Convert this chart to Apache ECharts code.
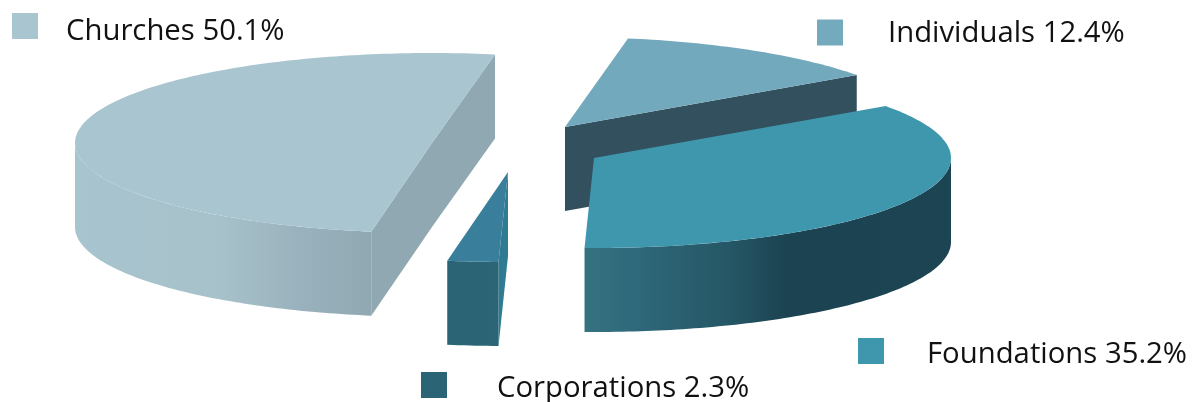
<!DOCTYPE html>
<html>
<head>
<meta charset="utf-8">
<style>html,body{margin:0;padding:0;background:#fff}#c{width:1195px;height:402px}</style>
<script src="https://cdn.jsdelivr.net/npm/echarts@6/dist/echarts.min.js"></script>
</head>
<body>
<div id="c"></div>
<script>
// Data, in clockwise order round the pie
const categories = ['Foundations', 'Corporations', 'Churches', 'Individuals'];
const shares = [35.2, 2.3, 50.1, 12.4];

// Look of the 3D pie
const startAngle = 35.2, radiusX = 357, radiusY = 90, depth = 84;
const centres = { Foundations: [594, 158], Corporations: [508, 172], Churches: [432, 143], Individuals: [565, 127] };
const drawOrder = { Churches: 1, Corporations: 2, Individuals: 3, Foundations: 4 };
const faceColours = { Foundations: '#3f97ae', Corporations: '#397f9c', Churches: '#a9c5d0', Individuals: '#73a9bc' };
const swatchColours = { Foundations: '#3f97ae', Corporations: '#2b6474', Churches: '#a8c5d0', Individuals: '#74aabd' };
const rimStops = {
  Foundations: [[0, '#35727f'], [0.12, '#2f6a7c'], [0.4, '#255665'], [0.55, '#1c4352'], [1, '#1d4452']],
  Corporations: [[0, '#2b6474'], [1, '#2b6676']],
  Churches: [[0, '#a8c4ce'], [0.5, '#a6c1ca'], [0.75, '#9ab2bd'], [1, '#90a8b2']],
  Individuals: [[0, '#345563'], [1, '#345563']]
};
const edgeColours = { Foundations: '#2b6474', Corporations: '#2f7c92', Churches: '#8fa8b1', Individuals: '#33505e' };
const legendSpots = {
  Churches: { left: 12, top: 13, gap: 23, drop: 11 },
  Individuals: { left: 817, top: 19, gap: 40, drop: 2 },
  Foundations: { left: 858, top: 338, gap: 38, drop: 8 },
  Corporations: { left: 421, top: 372, gap: 45, drop: 8 }
};
const legendFont = '"Open Sans"';
const legendSize = 29.3;

const rad = d => d * Math.PI / 180;
const total = shares.reduce((a, b) => a + b, 0);
let running = 0;
const spans = shares.map(v => {
  const from = startAngle - running / total * 360;
  running += v;
  return [from, startAngle - running / total * 360];
});

function point(c, a, drop) {
  return [c[0] + radiusX * Math.cos(rad(a)), c[1] - radiusY * Math.sin(rad(a)) + (drop || 0)];
}
function arc(c, from, to, drop) {
  const n = Math.max(2, Math.ceil(Math.abs(from - to)));
  const pts = [];
  for (let i = 0; i <= n; i++) pts.push(point(c, from + (to - from) * i / n, drop));
  return pts;
}
function poly(points, fill) {
  return { type: 'polygon', shape: { points }, style: { fill }, silent: true };
}
function gradient(name) {
  return new echarts.graphic.LinearGradient(0, 0, 1, 0,
    rimStops[name].map(s => ({ offset: s[0], color: s[1] })));
}
function rimRanges(from, to) {
  // clockwise span [from > to]; the rim shows wherever sin(angle) < 0
  const out = [];
  for (let k = -2; k <= 1; k++) {
    const hi = Math.min(from, 360 * k), lo = Math.max(to, 360 * k - 180);
    if (hi > lo) out.push([hi, lo]);
  }
  return out;
}
function renderSector(name) {
  const i = categories.indexOf(name);
  const c = centres[name];
  const from = spans[i][0], to = spans[i][1];
  const kids = [];
  const wall = (a) => {
    const tip = point(c, a);
    const low = point(c, a, depth);
    kids.push(poly([[c[0], c[1]], tip, low, [c[0], c[1] + depth]], edgeColours[name]));
  };
  if (Math.cos(rad(from)) < 0) wall(from);
  if (Math.cos(rad(to)) > 0) wall(to);
  rimRanges(from, to).forEach(r => {
    const top = arc(c, r[0], r[1], 0);
    const bot = arc(c, r[1], r[0], depth);
    kids.push(poly(top.concat(bot), gradient(name)));
  });
  kids.push(poly([[c[0], c[1]]].concat(arc(c, from, to, 0)), faceColours[name]));
  return { type: 'group', children: kids };
}

const series = categories.map((name, i) => ({
  type: 'custom',
  name,
  coordinateSystem: 'none',
  z: drawOrder[name],
  silent: true,
  animation: false,
  itemStyle: { color: swatchColours[name] },
  data: [[shares[i]]],
  renderItem: () => renderSector(name)
}));

const legend = categories.map((name, i) => ({
  data: [name],
  left: legendSpots[name].left,
  top: legendSpots[name].top,
  padding: 0,
  icon: 'rect',
  itemWidth: 26,
  itemHeight: 26,
  selectedMode: false,
  formatter: n => '{t|' + n + ' ' + shares[i].toFixed(1) + '%}',
  textStyle: {
    fontFamily: legendFont,
    fontSize: legendSize,
    color: '#111',
    rich: {
      t: {
        fontFamily: legendFont,
        fontSize: legendSize,
        color: '#111',
        padding: [legendSpots[name].drop, 0, 0, legendSpots[name].gap]
      }
    }
  }
}));

const chart = echarts.init(document.getElementById('c'), null, { renderer: 'canvas' });
chart.setOption({ backgroundColor: '#fff', animation: false, legend, series });
</script>
</body>
</html>
